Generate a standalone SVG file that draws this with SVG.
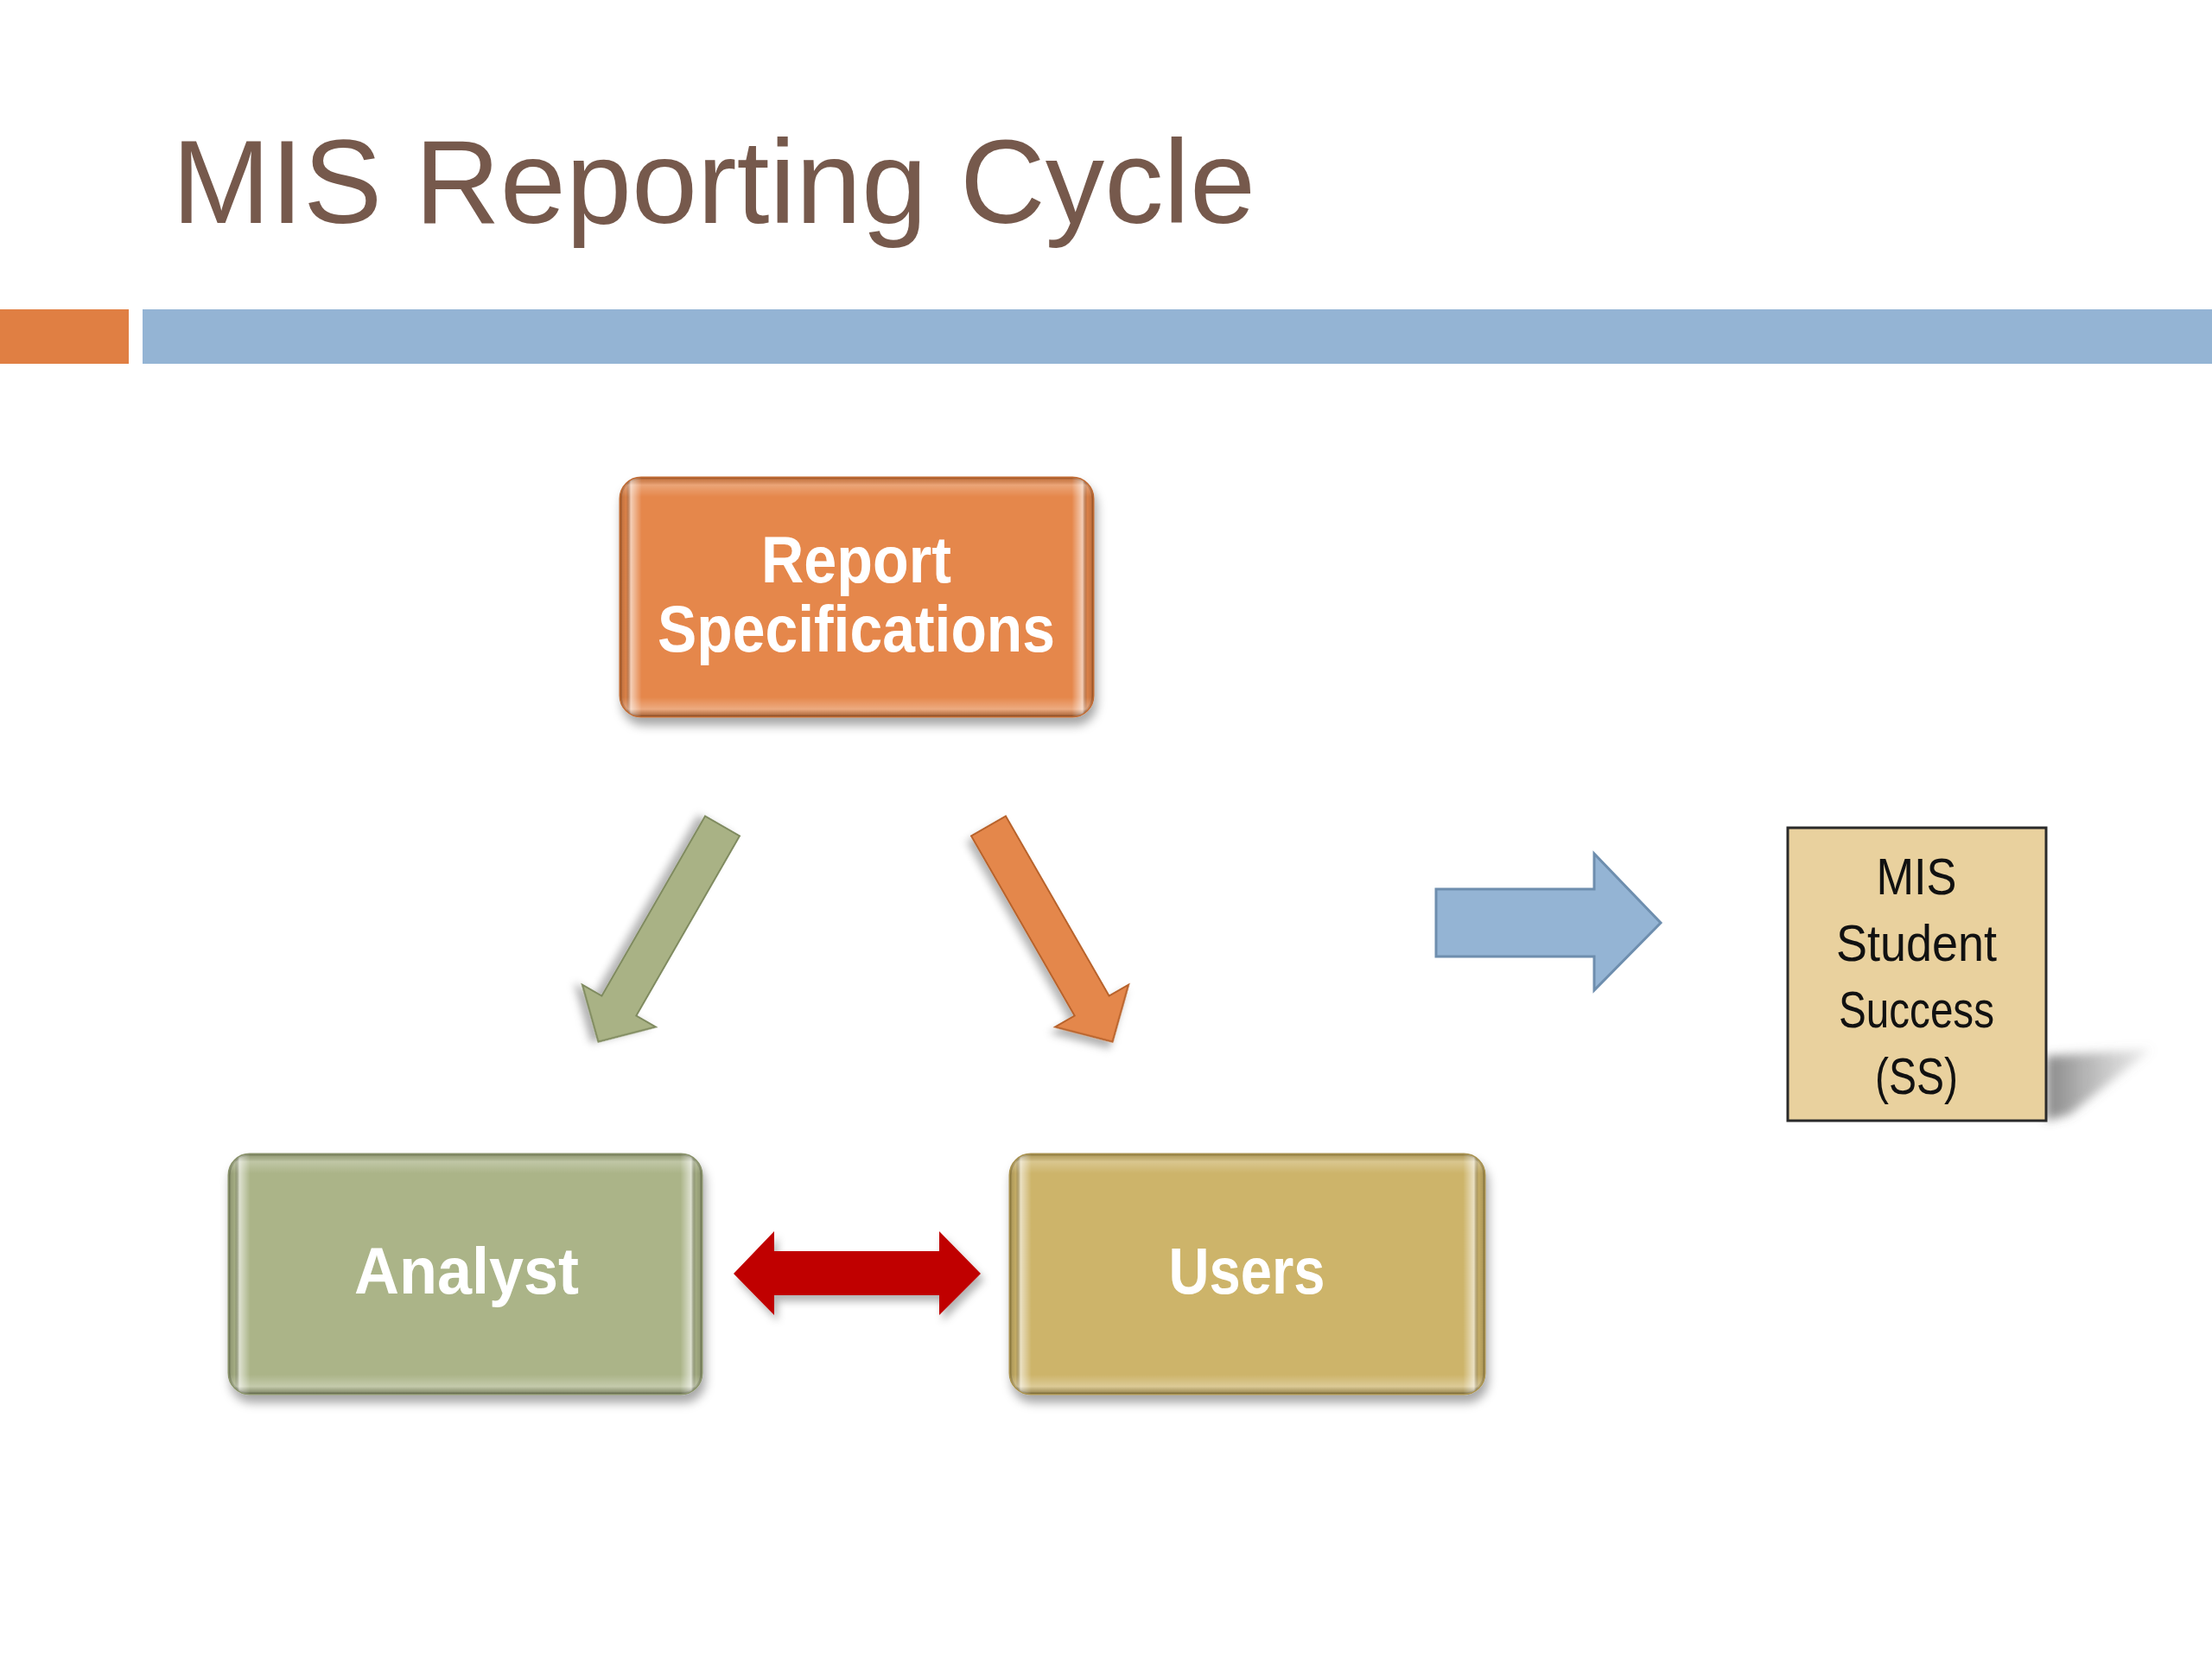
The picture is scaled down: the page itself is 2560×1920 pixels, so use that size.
<svg xmlns="http://www.w3.org/2000/svg" width="2560" height="1920" viewBox="0 0 2560 1920">
<defs>
<style>
.title{font-family:"Liberation Sans","DejaVu Sans",sans-serif;font-size:138px;fill:#76594c}
.lbl{font-family:"Liberation Sans","DejaVu Sans",sans-serif;font-weight:bold;font-size:76px;fill:#ffffff;text-anchor:middle}
.mis{font-family:"Liberation Sans","DejaVu Sans",sans-serif;font-size:60px;fill:#111111;text-anchor:middle}
</style>
<linearGradient id="bevelH" x1="0" y1="0" x2="1" y2="0">
<stop offset="0" stop-color="#000" stop-opacity="0.18"/>
<stop offset="0.012" stop-color="#000" stop-opacity="0.05"/>
<stop offset="0.022" stop-color="#fff" stop-opacity="0.6"/>
<stop offset="0.045" stop-color="#fff" stop-opacity="0"/>
<stop offset="0.955" stop-color="#fff" stop-opacity="0"/>
<stop offset="0.978" stop-color="#fff" stop-opacity="0.6"/>
<stop offset="0.988" stop-color="#000" stop-opacity="0.05"/>
<stop offset="1" stop-color="#000" stop-opacity="0.18"/>
</linearGradient>
<linearGradient id="bevelV" x1="0" y1="0" x2="0" y2="1">
<stop offset="0" stop-color="#000" stop-opacity="0.12"/>
<stop offset="0.03" stop-color="#fff" stop-opacity="0.25"/>
<stop offset="0.08" stop-color="#fff" stop-opacity="0"/>
<stop offset="0.92" stop-color="#fff" stop-opacity="0"/>
<stop offset="0.97" stop-color="#fff" stop-opacity="0.3"/>
<stop offset="1" stop-color="#000" stop-opacity="0.25"/>
</linearGradient>
<linearGradient id="shadowG" x1="0" y1="0" x2="1" y2="0">
<stop offset="0" stop-color="#555" stop-opacity="0.7"/>
<stop offset="1" stop-color="#888" stop-opacity="0.15"/>
</linearGradient>
<filter id="drop" x="-10%" y="-10%" width="130%" height="140%">
<feDropShadow dx="3" dy="9" stdDeviation="6" flood-color="#000" flood-opacity="0.35"/>
</filter>
<filter id="dropA" x="-20%" y="-20%" width="150%" height="150%">
<feDropShadow dx="4" dy="7" stdDeviation="5" flood-color="#000" flood-opacity="0.3"/>
</filter>
<filter id="blur" x="-20%" y="-20%" width="140%" height="140%">
<feGaussianBlur stdDeviation="6"/>
</filter>
<polygon id="diagArrow" points="0,-23 240,-23 240,-49 288,0 240,49 240,23 0,23"/>
</defs>
<rect width="2560" height="1920" fill="#ffffff"/>

<text class="title" x="199" y="258" textLength="1254" lengthAdjust="spacingAndGlyphs">MIS Reporting Cycle</text>
<rect x="0" y="358" width="149" height="63" fill="#e07f43"/>
<rect x="165" y="358" width="2395" height="63" fill="#94b4d4"/>

<g id="connectors">
<use href="#diagArrow" transform="translate(836,956) rotate(119.9)" fill="#a9b285" stroke="#7f8a5e" stroke-width="2" filter="url(#dropA)"/>
<use href="#diagArrow" transform="translate(1144,956) rotate(60.1)" fill="#e4874b" stroke="#b8622a" stroke-width="2" filter="url(#dropA)"/>
<polygon points="1662,1029 1845,1029 1845,988 1922,1068 1845,1146 1845,1107 1662,1107" fill="#94b4d4" stroke="#6e8eae" stroke-width="3"/>
<polygon points="849,1474 896,1425 896,1448 1087,1448 1087,1425 1135,1474 1087,1522 1087,1499 896,1499 896,1522" fill="#c00000" filter="url(#dropA)"/>
</g>

<g id="node-report">
<rect x="718" y="553" width="547" height="276" rx="24" fill="#e5874c" stroke="#c06a32" stroke-width="3" filter="url(#drop)"/>
<rect x="718" y="553" width="547" height="276" rx="24" fill="url(#bevelH)"/>
<rect x="718" y="553" width="547" height="276" rx="24" fill="url(#bevelV)"/>
<text class="lbl" x="991" y="674" textLength="220" lengthAdjust="spacingAndGlyphs">Report</text>
<text class="lbl" x="991" y="754" textLength="460" lengthAdjust="spacingAndGlyphs">Specifications</text>
</g>

<g id="node-analyst">
<rect x="265" y="1336" width="547" height="277" rx="24" fill="#abb488" stroke="#89926a" stroke-width="3" filter="url(#drop)"/>
<rect x="265" y="1336" width="547" height="277" rx="24" fill="url(#bevelH)"/>
<rect x="265" y="1336" width="547" height="277" rx="24" fill="url(#bevelV)"/>
<text class="lbl" x="540" y="1497" textLength="260" lengthAdjust="spacingAndGlyphs">Analyst</text>
</g>

<g id="node-users">
<rect x="1169" y="1336" width="549" height="277" rx="24" fill="#cdb46b" stroke="#a8914e" stroke-width="3" filter="url(#drop)"/>
<rect x="1169" y="1336" width="549" height="277" rx="24" fill="url(#bevelH)"/>
<rect x="1169" y="1336" width="549" height="277" rx="24" fill="url(#bevelV)"/>
<text class="lbl" x="1443" y="1497" textLength="181" lengthAdjust="spacingAndGlyphs">Users</text>
</g>

<g id="node-mis">
<polygon points="2368,1222 2490,1214 2395,1290 2368,1297" fill="url(#shadowG)" filter="url(#blur)"/>
<rect x="2069" y="958" width="299" height="339" fill="#e9d19e" stroke="#2a2a2a" stroke-width="3"/>
<text class="mis" x="2218" y="1035" textLength="93" lengthAdjust="spacingAndGlyphs">MIS</text>
<text class="mis" x="2218" y="1112" textLength="186" lengthAdjust="spacingAndGlyphs">Student</text>
<text class="mis" x="2218" y="1189" textLength="180" lengthAdjust="spacingAndGlyphs">Success</text>
<text class="mis" x="2218" y="1266" textLength="96" lengthAdjust="spacingAndGlyphs">(SS)</text>
</g>
</svg>
